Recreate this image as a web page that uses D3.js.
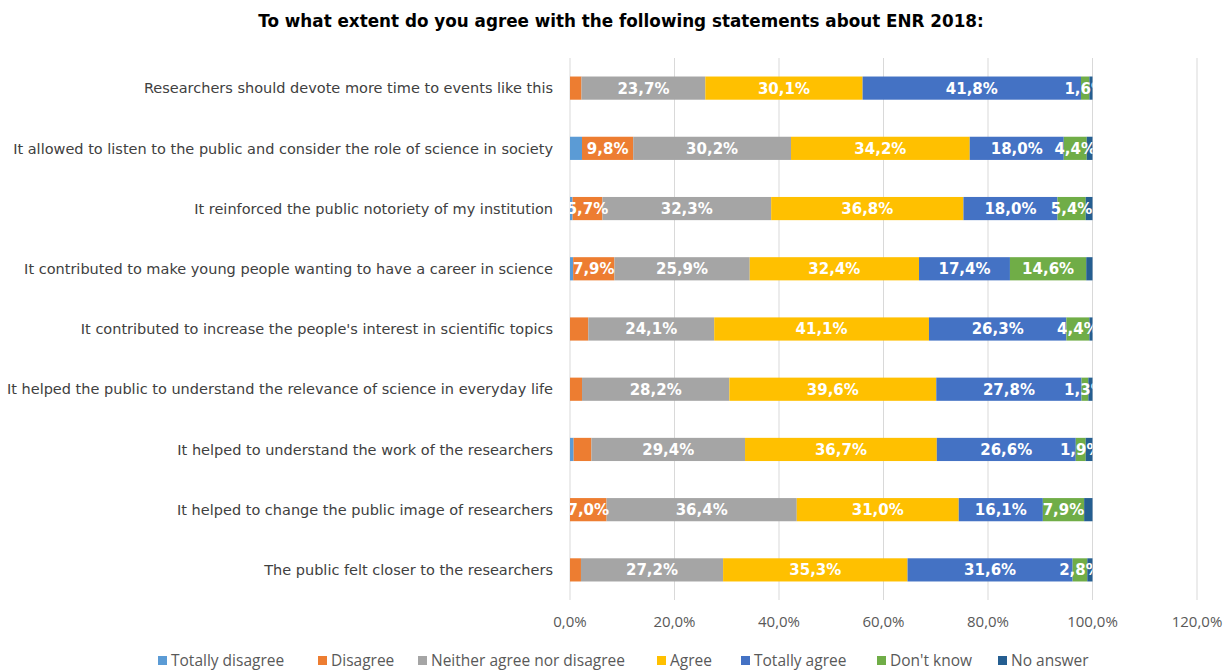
<!DOCTYPE html>
<html>
<head>
<meta charset="utf-8">
<script src="https://cdn.jsdelivr.net/npm/d3@7"></script>
<style>
  body { margin: 0; background: #fff; }
  svg { display: block; }
</style>
</head>
<body>
<div id="chart"></div>
<script>
// Survey answers per statement, in percent

const statements = [
    "Researchers should devote more time to events like this",
    "It allowed to listen to the public and consider the role of science in society",
    "It reinforced the public notoriety of my institution",
    "It contributed to make young people wanting to have a career in science",
    "It contributed to increase the people's interest in scientific topics",
    "It helped the public to understand the relevance of science in everyday life",
    "It helped to understand the work of the researchers",
    "It helped to change the public image of researchers",
    "The public felt closer to the researchers"
];

const answers = ["Totally disagree", "Disagree", "Neither agree nor disagree", "Agree", "Totally agree", "Don't know", "No answer"];
const colors = ["#5B9BD5", "#ED7D31", "#A5A5A5", "#FFC000", "#4472C4", "#70AD47", "#255E91"];

const totallyDisagree = [0.0, 2.3, 0.5, 0.6, 0.0, 0.0, 0.7, 0.0, 0.0];
const disagree        = [2.2, 9.8, 5.7, 7.9, 3.5, 2.3, 3.4, 7.0, 2.1];
const neither         = [23.7, 30.2, 32.3, 25.9, 24.1, 28.2, 29.4, 36.4, 27.2];
const agree           = [30.1, 34.2, 36.8, 32.4, 41.1, 39.6, 36.7, 31.0, 35.3];
const totallyAgree    = [41.8, 18.0, 18.0, 17.4, 26.3, 27.8, 26.6, 16.1, 31.6];
const dontKnow        = [1.6, 4.4, 5.4, 14.6, 4.4, 1.3, 1.9, 7.9, 2.8];
const noAnswer        = [0.6, 1.1, 1.3, 1.2, 0.6, 0.8, 1.3, 1.6, 1.0];

const xTicks = [0, 0.2, 0.4, 0.6, 0.8, 1.0, 1.2];

// labels were kept only on these segments in the original
const showLabel = [
    v => false,
    v => v >= 5,
    v => true,
    v => true,
    v => true,
    v => true,
    v => false
];

const series = [totallyDisagree, disagree, neither, agree, totallyAgree, dontKnow, noAnswer];

const width = 1230, height = 671;
const svg = d3.select('#chart').append('svg')
    .attr('width', width)
    .attr('height', height);

const x = d3.scaleLinear().domain([0, 1.2]).range([570, 1197]);
const y = d3.scaleBand().domain(statements).range([58, 600])
    .paddingInner(0.615).paddingOuter(0.3075);

const fmt = v => d3.format('.1f')(v).replace('.', ',') + '%';
const wideFont = '"DejaVu Sans", Verdana, sans-serif';
const narrowFont = '"Liberation Sans Narrow", "Open Sans", sans-serif';

// title
svg.append('text')
    .attr('x', 621).attr('y', 27)
    .attr('text-anchor', 'middle')
    .attr('font-family', wideFont)
    .attr('font-weight', 'bold')
    .attr('font-size', '16.8px')
    .attr('fill', '#000')
    .text('To what extent do you agree with the following statements about ENR 2018:');

// gridlines
svg.append('g')
    .selectAll('line')
    .data(xTicks)
    .join('line')
    .attr('x1', d => x(d)).attr('x2', d => x(d))
    .attr('y1', 58).attr('y2', 600)
    .attr('stroke', '#D9D9D9')
    .attr('stroke-width', 1);

// stacked rows
const rows = statements.map((s, i) => {
    let acc = 0;
    return series.map((vals, k) => {
        const seg = { stmt: s, k, v: vals[i], x0: acc, x1: acc + vals[i] };
        acc += vals[i];
        return seg;
    });
}).flat();

svg.append('g')
    .selectAll('rect')
    .data(rows.filter(d => d.v > 0))
    .join('rect')
    .attr('x', d => x(d.x0 / 100))
    .attr('width', d => x(d.x1 / 100) - x(d.x0 / 100))
    .attr('y', d => y(d.stmt))
    .attr('height', y.bandwidth())
    .attr('fill', d => colors[d.k]);

// value labels, clipped to the 0..100% range
svg.append('clipPath').attr('id', 'plotClip')
    .append('rect')
    .attr('x', x(0)).attr('y', 50)
    .attr('width', x(1) - x(0)).attr('height', 560);

svg.append('g')
    .attr('clip-path', 'url(#plotClip)')
    .selectAll('text')
    .data(rows.filter(d => d.v > 0 && showLabel[d.k](d.v)))
    .join('text')
    .attr('x', d => x((d.x0 + d.x1) / 200))
    .attr('y', d => y(d.stmt) + y.bandwidth() / 2)
    .attr('dy', '0.36em')
    .attr('text-anchor', 'middle')
    .attr('font-family', wideFont)
    .attr('font-weight', 'bold')
    .attr('font-size', '15px')
    .attr('fill', '#fff')
    .text(d => fmt(d.v));

// category labels
svg.append('g')
    .selectAll('text')
    .data(statements)
    .join('text')
    .attr('x', 553)
    .attr('y', d => y(d) + y.bandwidth() / 2)
    .attr('dy', '0.36em')
    .attr('text-anchor', 'end')
    .attr('font-family', wideFont)
    .attr('font-size', '14.5px')
    .attr('fill', '#404040')
    .text(d => d);

// x axis labels
svg.append('g')
    .selectAll('text')
    .data(xTicks)
    .join('text')
    .attr('x', d => x(d))
    .attr('y', 627)
    .attr('text-anchor', 'middle')
    .attr('font-family', narrowFont)
    .attr('font-size', '15px')
    .attr('fill', '#595959')
    .text(d => d3.format('.1f')(d * 100).replace('.', ',') + '%');

// legend
const legendX = [158, 318, 418, 657, 741, 877, 998];
const legend = svg.append('g')
    .selectAll('g')
    .data(answers)
    .join('g')
    .attr('transform', (d, i) => `translate(${legendX[i]},660)`);

legend.append('rect')
    .attr('x', 0).attr('y', -4)
    .attr('width', 9).attr('height', 9)
    .attr('fill', (d, i) => colors[i]);

legend.append('text')
    .attr('x', 13).attr('y', 0)
    .attr('dy', '0.36em')
    .attr('font-family', narrowFont)
    .attr('font-size', '15.5px')
    .attr('fill', '#595959')
    .text(d => d);
</script>
</body>
</html>
